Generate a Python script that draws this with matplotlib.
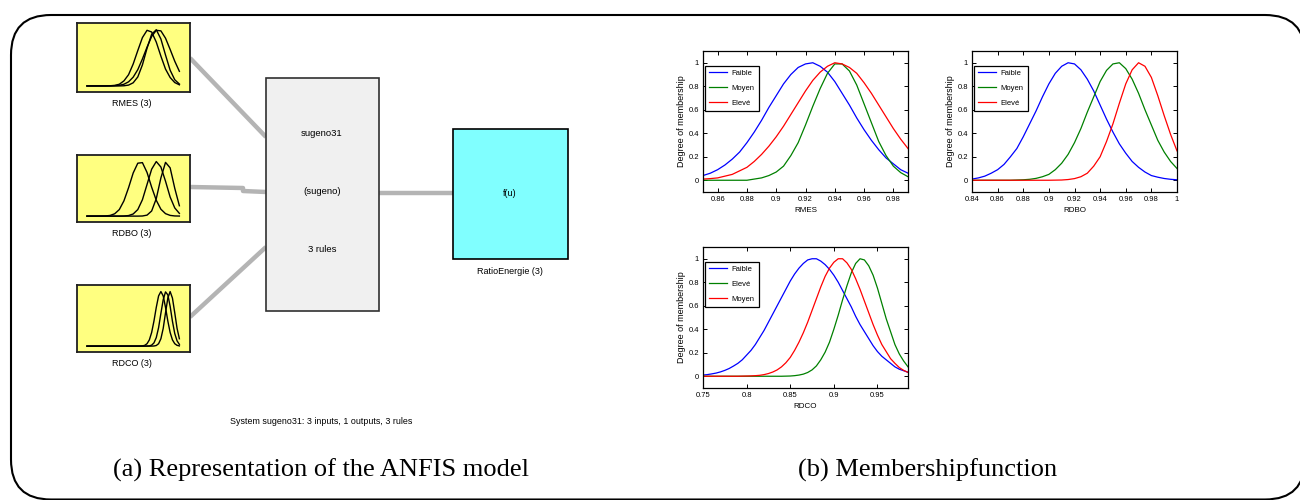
import numpy as np
import matplotlib
matplotlib.use("Agg")
import matplotlib.pyplot as plt
from matplotlib.patches import FancyBboxPatch, Rectangle

W, H = 1300, 500

# ---------------- data : (b) membership functions ----------------
rmes_range = (0.85, 0.99)
rmes_faible = [0.04, 0.06, 0.09, 0.13, 0.18, 0.24, 0.32, 0.41, 0.51, 0.62,
               0.72, 0.82, 0.90, 0.96, 0.99, 1.0, 0.97, 0.92, 0.84, 0.74,
               0.64, 0.53, 0.43, 0.34, 0.26, 0.19, 0.14, 0.09, 0.06]
rmes_moyen = [0, 0, 0, 0, 0, 0, 0, 0.01, 0.02, 0.04,
              0.07, 0.12, 0.21, 0.32, 0.47, 0.63, 0.78, 0.91, 0.99, 0.99,
              0.93, 0.81, 0.65, 0.49, 0.33, 0.21, 0.12, 0.065, 0.03]
rmes_eleve = [0.01, 0.014, 0.02, 0.035, 0.05, 0.08, 0.11, 0.16, 0.22, 0.29,
              0.37, 0.46, 0.56, 0.66, 0.76, 0.85, 0.92, 0.97, 1.0, 0.99,
              0.96, 0.91, 0.83, 0.74, 0.64, 0.54, 0.44, 0.35, 0.27]
rmes_xticks = [0.86, 0.88, 0.90, 0.92, 0.94, 0.96, 0.98]
rmes_xticklabels = ['0.86', '0.88', '0.9', '0.92', '0.94', '0.96', '0.98']

rdbo_range = (0.84, 1.0)
rdbo_faible = [0.01, 0.02, 0.035, 0.06, 0.09, 0.135, 0.2, 0.27, 0.37, 0.48,
               0.59, 0.71, 0.82, 0.91, 0.97, 1.0, 0.99, 0.94, 0.86, 0.76,
               0.64, 0.52, 0.41, 0.31, 0.23, 0.16, 0.11, 0.07, 0.04, 0.026,
               0.015, 0.008, 0.004]
rdbo_moyen = [0, 0, 0, 0, 0, 0, 0, 0.002, 0.004, 0.008,
              0.016, 0.03, 0.05, 0.09, 0.145, 0.22, 0.32, 0.44, 0.58, 0.71,
              0.84, 0.935, 0.99, 1.0, 0.95, 0.86, 0.74, 0.60, 0.47, 0.34,
              0.24, 0.16, 0.10]
rdbo_eleve = [0, 0, 0, 0, 0, 0, 0, 0, 0, 0,
              0, 0, 0, 0.001, 0.002, 0.006, 0.014, 0.03, 0.06, 0.12,
              0.20, 0.33, 0.48, 0.655, 0.82, 0.94, 1.0, 0.97, 0.875, 0.72,
              0.55, 0.39, 0.25]
rdbo_xticks = [0.84, 0.86, 0.88, 0.90, 0.92, 0.94, 0.96, 0.98, 1.0]
rdbo_xticklabels = ['0.84', '0.86', '0.88', '0.9', '0.92', '0.94', '0.96', '0.98', '1']

rdco_range = (0.75, 0.985)
rdco_faible = [0.01, 0.014, 0.02, 0.027, 0.037, 0.05, 0.066, 0.087, 0.11, 0.14,
               0.18, 0.22, 0.27, 0.33, 0.39, 0.46, 0.53, 0.60, 0.67, 0.74,
               0.81, 0.87, 0.92, 0.96, 0.99, 1.0, 1.0, 0.98, 0.95, 0.91,
               0.86, 0.80, 0.73, 0.66, 0.59, 0.51, 0.44, 0.38, 0.32, 0.26,
               0.21, 0.17, 0.14, 0.11, 0.08, 0.06, 0.047, 0.034]
rdco_eleve = [0, 0, 0, 0, 0, 0, 0, 0, 0, 0,
              0, 0, 0, 0, 0, 0, 0, 0, 0, 0.001,
              0.002, 0.005, 0.01, 0.018, 0.032, 0.054, 0.088, 0.14, 0.205, 0.29,
              0.40, 0.52, 0.65, 0.77, 0.88, 0.96, 1.0, 0.99, 0.94, 0.86,
              0.75, 0.62, 0.49, 0.38, 0.27, 0.19, 0.13, 0.08]
rdco_moyen = [0, 0, 0, 0, 0, 0, 0, 0, 0, 0.001,
              0.002, 0.003, 0.005, 0.008, 0.014, 0.023, 0.036, 0.054, 0.08, 0.115,
              0.16, 0.22, 0.29, 0.37, 0.46, 0.56, 0.66, 0.76, 0.85, 0.92,
              0.97, 1.0, 1.0, 0.965, 0.91, 0.83, 0.74, 0.64, 0.54, 0.44,
              0.35, 0.27, 0.21, 0.15, 0.11, 0.074, 0.05, 0.033]
rdco_xticks = [0.75, 0.80, 0.85, 0.90, 0.95]
rdco_xticklabels = ['0.75', '0.8', '0.85', '0.9', '0.95']

ms_yticks = [0, 0.2, 0.4, 0.6, 0.8, 1.0]
ms_yticklabels = ['0', '0.2', '0.4', '0.6', '0.8', '1']

# ---------------- data : (a) thumbnails in the input boxes ----------------
mini_rmes = [
    [0, 0, 0, 0, 0, 0.003, 0.01, 0.03, 0.09, 0.2, 0.39, 0.63, 0.86, 0.99, 0.96,
     0.78, 0.53, 0.3, 0.15, 0.06, 0.02],
    [0, 0, 0, 0, 0, 0, 0, 0, 0.003, 0.015, 0.056, 0.16, 0.375, 0.67, 0.92,
     1.0, 0.835, 0.55, 0.28, 0.11, 0.034],
    [0, 0, 0, 0, 0, 0.001, 0.004, 0.011, 0.03, 0.073, 0.156, 0.29, 0.48, 0.69, 0.88,
     0.99, 0.98, 0.85, 0.65, 0.44, 0.26],
]
mini_rdbo = [
    [0, 0, 0, 0.001, 0.003, 0.012, 0.043, 0.12, 0.28, 0.52, 0.79, 0.97, 0.98, 0.80, 0.53,
     0.29, 0.126, 0.045, 0.013, 0.003, 0.001],
    [0, 0, 0, 0, 0, 0, 0, 0, 0.002, 0.01, 0.039, 0.12, 0.30, 0.58, 0.86,
     1.0, 0.90, 0.64, 0.35, 0.15, 0.05],
    [0, 0, 0, 0, 0, 0, 0, 0, 0, 0, 0, 0, 0.002, 0.018, 0.094,
     0.32, 0.70, 0.985, 0.885, 0.51, 0.19],
]
mini_rdco = [
    [0] * 23 + [0.001, 0.004, 0.014, 0.044, 0.114, 0.25, 0.46, 0.71, 0.92, 1.0,
                0.92, 0.71, 0.46, 0.25, 0.114, 0.044, 0.014, 0.004],
    [0] * 26 + [0.001, 0.004, 0.018, 0.059, 0.156, 0.338, 0.60, 0.85, 0.994, 0.94,
                0.73, 0.455, 0.23, 0.096, 0.032],
    [0] * 29 + [0.002, 0.011, 0.044, 0.135, 0.325, 0.61, 0.88, 1.0, 0.88, 0.61,
                0.325, 0.135],
]
input_names = ['RMES (3)', 'RDBO (3)', 'RDCO (3)']
system_name = 'sugeno31'
system_type = '(sugeno)'
rule_text = '3 rules'
output_name = 'RatioEnergie (3)'
summary_text = 'System sugeno31: 3 inputs, 1 outputs, 3 rules'
caption_a = '(a) Representation of the ANFIS model'
caption_b = '(b) Membershipfunction'

# ---------------- figure ----------------
SANS = ['Liberation Sans Narrow', 'Liberation Sans', 'DejaVu Sans']
SERIF = ['Liberation Serif', 'DejaVu Serif']
plt.rcParams['font.family'] = SANS

fig = plt.figure(figsize=(13, 5), dpi=100)
bg = fig.add_axes([0, 0, 1, 1])
bg.set_xlim(0, W)
bg.set_ylim(H, 0)
bg.axis('off')


def px_axes(x0, y0, x1, y1, z=5):
    return fig.add_axes([x0 / W, 1 - y1 / H, (x1 - x0) / W, (y1 - y0) / H], zorder=z)


# outer rounded frame
frame = FancyBboxPatch((11, 15), 1294, 484.5,
                       boxstyle="round,pad=0,rounding_size=40",
                       fc='white', ec='black', lw=1.5, clip_on=False, zorder=0)
bg.add_patch(frame)

# connecting lines
LINE_C = '#b4b4b4'
bg.plot([190, 266], [58, 137], color=LINE_C, lw=3.2, solid_capstyle='butt', zorder=1)
bg.plot([190, 243, 243, 266], [187, 188, 191, 192], color=LINE_C, lw=3.2,
        solid_capstyle='butt', zorder=1)
bg.plot([190, 266], [317, 247], color=LINE_C, lw=3.2, solid_capstyle='butt', zorder=1)
bg.plot([379, 453], [193, 193], color=LINE_C, lw=3.2, solid_capstyle='butt', zorder=1)

# rule box
bg.add_patch(Rectangle((266, 78), 113, 233, fc='#f0f0f0', ec='#303030', lw=1.2, zorder=2))
bg.text(322, 134, system_name, ha='center', va='center', fontsize=6.8, zorder=3)
bg.text(322, 192, system_type, ha='center', va='center', fontsize=6.8, zorder=3)
bg.text(322, 249, rule_text, ha='center', va='center', fontsize=6.8, zorder=3)

# output box
bg.add_patch(Rectangle((453, 129), 115, 130, fc='#80ffff', ec='black', lw=1.2, zorder=2))
bg.text(510, 193, 'f(u)', ha='center', va='center', fontsize=6.5, zorder=3)
bg.text(510, 272, output_name, ha='center', va='center', fontsize=6.5, zorder=3)

bg.text(321, 421, summary_text, ha='center', va='center', fontsize=6.4, zorder=3)

# input boxes with thumbnails
box_tops = [23, 155, 285]
box_h = [69, 67, 67]
label_y = [104, 233, 363]
minis = [mini_rmes, mini_rdbo, mini_rdco]
for top, hh, ly, name, curves in zip(box_tops, box_h, label_y, input_names, minis):
    ax = px_axes(77, top, 190, top + hh)
    ax.set_facecolor('#ffff80')
    for c in curves:
        u = np.linspace(0, 1, len(c))
        ax.plot(u, c, color='black', lw=1.0)
    ax.set_xlim(-0.108, 1.115)
    ax.set_ylim(-0.108, 1.12)
    ax.set_xticks([])
    ax.set_yticks([])
    for s in ax.spines.values():
        s.set_linewidth(1.3)
        s.set_color('#202020')
    bg.text(132, ly, name, ha='center', va='center', fontsize=6.5, zorder=3)

# captions
bg.text(321, 470, caption_a, ha='center', va='center', fontsize=19, family=SERIF, zorder=3)
bg.text(928, 470, caption_b, ha='center', va='center', fontsize=19, family=SERIF, zorder=3)

# membership function plots
BLUE, GREEN, RED = '#0000ff', '#008000', '#ff0000'
mf_specs = [
    ((703, 51, 908, 192), rmes_range, [(rmes_faible, BLUE, 'Faible'), (rmes_moyen, GREEN, 'Moyen'),
                                         (rmes_eleve, RED, 'Elevé')],
     rmes_xticks, rmes_xticklabels, 'RMES'),
    ((972, 51, 1177, 192), rdbo_range, [(rdbo_faible, BLUE, 'Faible'), (rdbo_moyen, GREEN, 'Moyen'),
                                          (rdbo_eleve, RED, 'Elevé')],
     rdbo_xticks, rdbo_xticklabels, 'RDBO'),
    ((703, 247, 908, 388), rdco_range, [(rdco_faible, BLUE, 'Faible'), (rdco_eleve, GREEN, 'Elevé'),
                                          (rdco_moyen, RED, 'Moyen')],
     rdco_xticks, rdco_xticklabels, 'RDCO'),
]
for (x0, y0, x1, y1), xr, series, xt, xtl, xlabel in mf_specs:
    ax = px_axes(x0, y0, x1, y1)
    for vals, col, lab in series:
        xs = np.linspace(xr[0], xr[1], len(vals))
        ax.plot(xs, vals, color=col, lw=0.9, label=lab)
    ax.set_xlim(*xr)
    ax.set_ylim(-0.1, 1.1)
    ax.set_xticks(xt)
    ax.set_xticklabels(xtl)
    ax.set_yticks(ms_yticks)
    ax.set_yticklabels(ms_yticklabels)
    ax.tick_params(direction='in', length=3, width=0.7, labelsize=5.5, pad=3,
                   top=True, right=True, colors='black')
    for s in ax.spines.values():
        s.set_linewidth(0.9)
    ax.set_xlabel(xlabel, fontsize=5.8, labelpad=3)
    ax.set_ylabel('Degree of membership', fontsize=6.5, labelpad=1.5)
    leg = ax.legend(loc='upper left', bbox_to_anchor=(0.01, 0.894), borderaxespad=0,
                    fontsize=5.5, frameon=True, fancybox=False, framealpha=1,
                    edgecolor='black', handlelength=2.4, handletextpad=0.6,
                    labelspacing=1.0, borderpad=0.5)
    leg.get_frame().set_linewidth(0.9)

fig.savefig('out.png', dpi=100)
